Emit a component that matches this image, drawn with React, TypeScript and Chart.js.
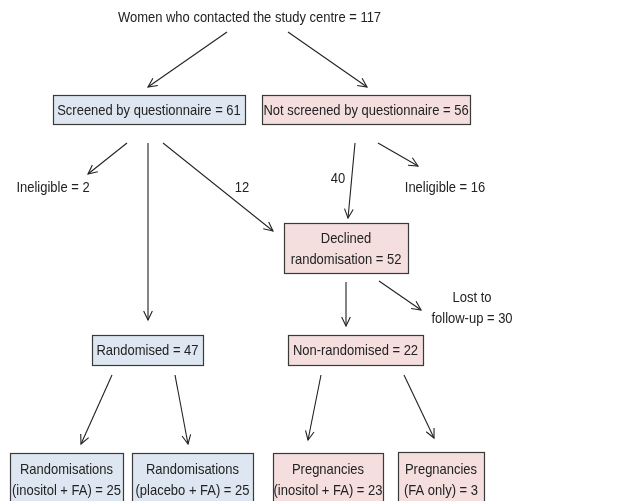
import React, { useEffect, useRef } from "react";
import { Chart, registerables } from "chart.js";

Chart.register(...registerables);

// ---- Flowchart content ----
// Boxed nodes
const boxLines: string[][] = [
  ["Screened by questionnaire = 61"],
  ["Not screened by questionnaire = 56"],
  ["Declined", "randomisation = 52"],
  ["Randomised = 47"],
  ["Non-randomised = 22"],
  ["Randomisations", "(inositol + FA) = 25"],
  ["Randomisations", "(placebo + FA) = 25"],
  ["Pregnancies", "(inositol + FA) = 23"],
  ["Pregnancies", "(FA only) = 3"],
];
const boxArm = ["blue", "pink", "pink", "blue", "pink", "blue", "blue", "pink", "pink"];
const boxCX = [149, 366, 346, 147.5, 355.5, 66.5, 192.5, 328, 441];
const boxCY = [109.5, 109.5, 248, 350, 350, 479.5, 479.5, 479.5, 479.5];
const boxW = [192, 208, 124, 111, 135, 113, 121, 110, 86];
const boxH = [29, 29, 50, 30, 30, 53, 53, 53, 55];

// Free text labels
const textLines: string[][] = [
  ["Women who contacted the study centre = 117"],
  ["Ineligible = 2"],
  ["12"],
  ["40"],
  ["Ineligible = 16"],
  ["Lost to", "follow-up = 30"],
];
const textCX = [249.5, 53, 242, 338, 445, 472];
const textCY = [17, 187, 187, 178, 187, 307];

// Arrows (from -> to)
const arrowFromX = [227, 288, 127, 148, 163, 355, 378, 346, 379, 112, 175, 321, 404];
const arrowFromY = [32, 32, 143, 143, 143, 143, 143, 282, 281, 375, 375, 375, 375];
const arrowToX = [148, 367, 88, 148, 273, 348, 418, 346, 421, 81, 188, 308, 434];
const arrowToY = [87, 87, 174, 320, 231, 218, 166, 326, 310, 444, 444, 440, 438];

const FILL: Record<string, string> = { blue: "#dee7f1", pink: "#f4dede" };
const INK = "#222222";
const BORDER = "#3a3a3a";
const FONT = '15px "Liberation Sans", Arial, sans-serif';
const SX = 0.865;
const LINE_H = 21;

function drawText(ctx: CanvasRenderingContext2D, s: string, x: number, y: number) {
  ctx.save();
  ctx.translate(x, y + 1);
  ctx.scale(SX, 1);
  ctx.fillText(s, 0, 0);
  ctx.restore();
}

function drawLines(ctx: CanvasRenderingContext2D, lines: string[], cx: number, cy: number) {
  const n = lines.length;
  lines.forEach((s, i) => {
    drawText(ctx, s, cx, cy + (i - (n - 1) / 2) * LINE_H);
  });
}

const flowPlugin = {
  id: "flow",
  afterDatasetsDraw(chart: any) {
    const ctx: CanvasRenderingContext2D = chart.ctx;
    const xs = chart.scales.x;
    const ys = chart.scales.y;
    ctx.save();
    // arrowheads
    chart.data.datasets.forEach((_: any, i: number) => {
      const meta = chart.getDatasetMeta(i);
      const p0 = meta.data[0];
      const p1 = meta.data[1];
      if (!p0 || !p1) return;
      const ang = Math.atan2(p1.y - p0.y, p1.x - p0.x);
      const L = 10;
      const spread = 0.45;
      ctx.strokeStyle = INK;
      ctx.lineWidth = 1.1;
      ctx.beginPath();
      ctx.moveTo(p1.x - L * Math.cos(ang - spread), p1.y - L * Math.sin(ang - spread));
      ctx.lineTo(p1.x, p1.y);
      ctx.lineTo(p1.x - L * Math.cos(ang + spread), p1.y - L * Math.sin(ang + spread));
      ctx.stroke();
    });
    // boxes
    ctx.font = FONT;
    ctx.textAlign = "center";
    ctx.textBaseline = "middle";
    boxLines.forEach((lines, i) => {
      const left = xs.getPixelForValue(boxCX[i] - boxW[i] / 2);
      const right = xs.getPixelForValue(boxCX[i] + boxW[i] / 2);
      const top = ys.getPixelForValue(boxCY[i] - boxH[i] / 2);
      const bottom = ys.getPixelForValue(boxCY[i] + boxH[i] / 2);
      ctx.fillStyle = FILL[boxArm[i]];
      ctx.fillRect(left, top, right - left, bottom - top);
      ctx.strokeStyle = BORDER;
      ctx.lineWidth = 1.2;
      ctx.strokeRect(Math.round(left) + 0.5, Math.round(top) + 0.5, Math.round(right - left), Math.round(bottom - top));
      ctx.fillStyle = INK;
      drawLines(ctx, lines, xs.getPixelForValue(boxCX[i]), ys.getPixelForValue(boxCY[i]));
    });
    // free text
    ctx.fillStyle = INK;
    textLines.forEach((lines, i) => {
      drawLines(ctx, lines, xs.getPixelForValue(textCX[i]), ys.getPixelForValue(textCY[i]));
    });
    ctx.restore();
  },
};

export default function App() {
  const ref = useRef<HTMLCanvasElement | null>(null);
  useEffect(() => {
    if (!ref.current) return;
    const datasets = arrowFromX.map((fx, i) => ({
      data: [
        { x: fx, y: arrowFromY[i] },
        { x: arrowToX[i], y: arrowToY[i] },
      ],
      showLine: true,
      borderColor: INK,
      borderWidth: 1.1,
      pointRadius: 0,
      pointHoverRadius: 0,
      fill: false,
    }));
    const chart = new Chart(ref.current, {
      type: "scatter",
      data: { datasets },
      options: {
        animation: false,
        responsive: false,
        maintainAspectRatio: false,
        devicePixelRatio: 1,
        layout: { padding: 0 },
        events: [],
        clip: false as any,
        plugins: { legend: { display: false }, tooltip: { enabled: false } },
        scales: {
          x: { type: "linear", min: 0, max: 642, display: false },
          y: { type: "linear", min: 0, max: 501, reverse: true, display: false },
        },
      },
      plugins: [flowPlugin],
    });
    return () => chart.destroy();
  }, []);
  return (
    <div style={{ position: "absolute", left: 0, top: 0, width: 642, height: 501, background: "#fff" }}>
      <canvas ref={ref} width={642} height={501} style={{ display: "block" }} />
    </div>
  );
}
